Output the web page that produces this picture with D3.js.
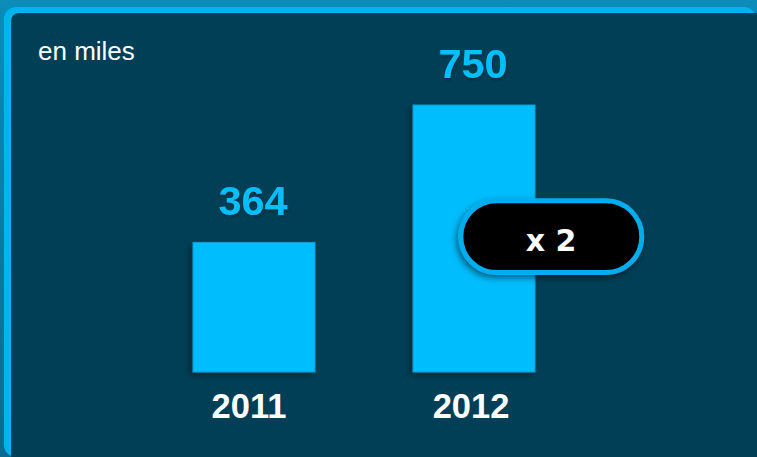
<!DOCTYPE html>
<html>
<head>
<meta charset="utf-8">
<script src="https://cdn.jsdelivr.net/npm/d3@7"></script>
<style>
  html, body { margin: 0; padding: 0; background: #0a86b2; }
  svg { display: block; }
</style>
</head>
<body>
<script>
// ---- data ----
const years = ["2011", "2012"];
const values = [364, 750];
const unitLabel = "en miles";
const multiplierLabel = "x 2";

const W = 757, H = 457;
const svg = d3.select("body").append("svg").attr("width", W).attr("height", H);
const defs = svg.append("defs");

const bg = defs.append("linearGradient").attr("id", "bg").attr("x1", 0).attr("y1", 0).attr("x2", 0).attr("y2", 1);
bg.append("stop").attr("offset", "0%").attr("stop-color", "#0b8cb9");
bg.append("stop").attr("offset", "100%").attr("stop-color", "#0a6a90");

const sh = defs.append("filter").attr("id", "barShadow").attr("x", "-20%").attr("y", "-20%").attr("width", "140%").attr("height", "140%");
sh.append("feDropShadow").attr("dx", -3).attr("dy", 3).attr("stdDeviation", 3).attr("flood-color", "#000").attr("flood-opacity", 0.35);

const ps = defs.append("filter").attr("id", "pillShadow").attr("x", "-20%").attr("y", "-30%").attr("width", "140%").attr("height", "160%");
ps.append("feDropShadow").attr("dx", -2).attr("dy", 3).attr("stdDeviation", 3).attr("flood-color", "#000").attr("flood-opacity", 0.5);

const ts = defs.append("filter").attr("id", "txtShadow").attr("x", "-20%").attr("y", "-20%").attr("width", "140%").attr("height", "140%");
ts.append("feDropShadow").attr("dx", 1).attr("dy", 2).attr("stdDeviation", 1.5).attr("flood-color", "#000").attr("flood-opacity", 0.3);

// background + frame
svg.append("rect").attr("width", W).attr("height", H).attr("fill", "url(#bg)");
svg.append("rect").attr("x", 4).attr("y", 7).attr("width", 752).attr("height", 450).attr("rx", 12).attr("fill", "#00b4ee");
svg.append("rect").attr("x", 11).attr("y", 13).attr("width", 770).attr("height", 480).attr("rx", 8).attr("fill", "#013f56");

// scales
const x = d3.scaleBand().domain(years).range([144, 584]).paddingInner(0.4454).paddingOuter(0.2227);
const y = d3.scaleLinear().domain([0, 750]).range([372, 105]);

// bars
svg.append("g").selectAll("rect").data(years).join("rect")
  .attr("x", d => x(d))
  .attr("y", (d, i) => y(values[i]))
  .attr("width", x.bandwidth())
  .attr("height", (d, i) => y(0) - y(values[i]))
  .attr("fill", "#03bdfd")
  .attr("stroke", "#0a9fd6")
  .attr("stroke-width", 1)
  .attr("filter", "url(#barShadow)");

// value labels
svg.append("g").selectAll("text").data(years).join("text")
  .attr("x", d => x(d) + x.bandwidth() / 2 - 1)
  .attr("y", (d, i) => y(values[i]) - 27)
  .attr("text-anchor", "middle")
  .attr("font-family", "Liberation Sans, Arial, sans-serif")
  .attr("font-weight", "bold")
  .attr("font-size", 41.5)
  .attr("fill", "#06bffa")
  .attr("filter", "url(#txtShadow)")
  .text((d, i) => values[i]);

// category labels (axis)
const axis = d3.axisBottom(x).tickSize(0).tickPadding(0);
const ax = svg.append("g").attr("transform", `translate(0,${y(0)})`).call(axis);
ax.select(".domain").remove();
ax.selectAll("text")
  .attr("dy", null)
  .attr("y", 45.5)
  .attr("x", (d, i) => i === 0 ? -5 : -3)
  .attr("font-family", "Liberation Sans, Arial, sans-serif")
  .attr("font-weight", "bold")
  .attr("font-size", 34.5)
  .attr("fill", "#ffffff");

// unit label
svg.append("text")
  .attr("x", 38).attr("y", 60)
  .attr("font-family", "Liberation Sans, Arial, sans-serif")
  .attr("font-size", 26)
  .attr("fill", "#ffffff")
  .text(unitLabel);

// multiplier pill
const pill = svg.append("g");
pill.append("rect")
  .attr("x", 460.8).attr("y", 200.8).attr("width", 181).attr("height", 71.7).attr("rx", 35.85)
  .attr("fill", "#000")
  .attr("stroke", "#00aeef").attr("stroke-width", 5)
  .attr("filter", "url(#pillShadow)");
pill.append("text")
  .attr("x", 551).attr("y", 251)
  .attr("text-anchor", "middle")
  .attr("font-family", "DejaVu Sans, Verdana, sans-serif")
  .attr("font-weight", "bold")
  .attr("font-size", 30)
  .attr("fill", "#ffffff")
  .text(multiplierLabel);
</script>
</body>
</html>
